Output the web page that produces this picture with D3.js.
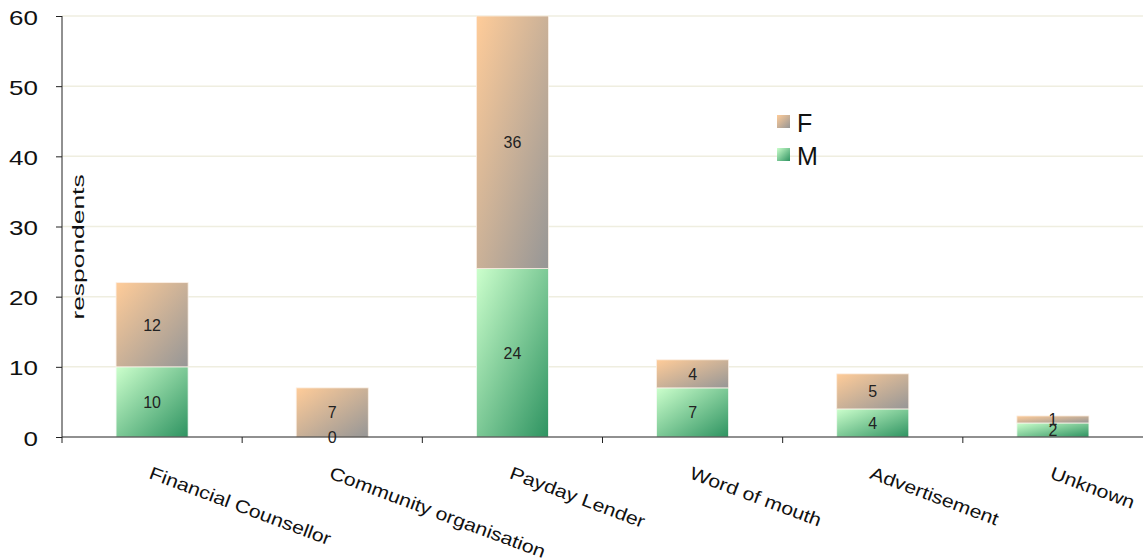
<!DOCTYPE html>
<html><head><meta charset="utf-8">
<script src="https://cdn.jsdelivr.net/npm/d3@7"></script>
<style>body{margin:0;background:#fff}svg{display:block}text{font-family:"Liberation Sans",Arial,sans-serif}</style>
</head><body><svg id="c" width="1145" height="560"></svg>
<script>
const categories = ["Financial Counsellor","Community organisation","Payday Lender","Word of mouth","Advertisement","Unknown"];
const maleValues = [10,0,24,7,4,2];
const femaleValues = [12,7,36,4,5,1];
const yTicks = [0,10,20,30,40,50,60];
const seriesNames = ["F","M"];

const svg = d3.select("#c");
const m = {left:62, right:1143, top:16, bottom:437};
const x = d3.scaleBand().domain(categories).range([m.left, m.right]).paddingInner(0).paddingOuter(0);
const y = d3.scaleLinear().domain([0,60]).range([m.bottom, m.top]);

const defs = svg.append("defs");
function grad(id, c1, c2){
  const g = defs.append("linearGradient").attr("id",id).attr("x1",0).attr("y1",0).attr("x2",1).attr("y2",1);
  g.append("stop").attr("offset","0%").attr("stop-color",c1);
  g.append("stop").attr("offset","100%").attr("stop-color",c2);
}
grad("gF","#ffcc99","#969696");
grad("gM","#ccffcc","#2e9361");

// gridlines
svg.append("g").selectAll("line").data(yTicks.filter(d=>d>0)).join("line")
  .attr("x1",m.left).attr("x2",m.right).attr("y1",d=>y(d)).attr("y2",d=>y(d))
  .attr("stroke","#efeee0").attr("stroke-width",1.5);

const bw = x.bandwidth()*0.4;
const stack = categories.map((c,i)=>({c, m:maleValues[i], f:femaleValues[i]}));
const g = svg.append("g");
g.selectAll("rect.m").data(stack).join("rect").attr("class","m")
  .attr("x",d=>x(d.c)+x.bandwidth()/2-bw/2).attr("width",bw)
  .attr("y",d=>y(d.m)).attr("height",d=>y(0)-y(d.m))
  .attr("fill","url(#gM)").attr("stroke","#f4fbf4").attr("stroke-width",0.8);
g.selectAll("rect.f").data(stack).join("rect").attr("class","f")
  .attr("x",d=>x(d.c)+x.bandwidth()/2-bw/2).attr("width",bw)
  .attr("y",d=>y(d.m+d.f)).attr("height",d=>y(d.m)-y(d.m+d.f))
  .attr("fill","url(#gF)").attr("stroke","#fbefe4").attr("stroke-width",0.8);

// value labels
g.selectAll("text.lm").data(stack).join("text")
  .attr("x",d=>x(d.c)+x.bandwidth()/2).attr("y",d=>y(d.m/2)+6)
  .attr("text-anchor","middle").attr("font-size",16).attr("fill","#222").text(d=>d.m);
g.selectAll("text.lf").data(stack).join("text")
  .attr("x",d=>x(d.c)+x.bandwidth()/2).attr("y",d=>y(d.m+d.f/2)+6)
  .attr("text-anchor","middle").attr("font-size",16).attr("fill","#222").text(d=>d.f);

// y axis
const ya = svg.append("g").attr("transform",`translate(${m.left},0)`)
  .call(d3.axisLeft(y).tickValues(yTicks).tickSize(6).tickPadding(0));
ya.select(".domain").attr("stroke","#222").attr("d",`M0,${m.top}V${m.bottom+6}`);
ya.selectAll(".tick line").attr("stroke","#222");
ya.selectAll(".tick text").attr("font-size",20).attr("fill","#111")
  .attr("font-family","Liberation Sans, Arial, sans-serif")
  .attr("x",0).attr("dy","0.4em").attr("transform","translate(-24,0) scale(1.3,1)");

// x axis
svg.append("line").attr("x1",m.left).attr("x2",m.right).attr("y1",y(0)).attr("y2",y(0)).attr("stroke","#222").attr("stroke-width",1.2);
const bounds = categories.map(c=>x(c)+x.bandwidth()).slice(0,-1);
svg.append("g").selectAll("line").data(bounds).join("line")
  .attr("x1",d=>d).attr("x2",d=>d).attr("y1",y(0)).attr("y2",y(0)+6).attr("stroke","#222");
svg.append("g").selectAll("text").data(categories).join("text")
  .attr("transform",d=>`translate(${x(d)+x.bandwidth()/2-4},${y(0)+41}) rotate(20.5) scale(1.18,1)`)
  .attr("font-size",18).attr("fill","#111").text(d=>d);

// y label
svg.append("text").attr("transform",`translate(84,247) rotate(-90) scale(1.65,1)`).attr("text-anchor","middle")
  .attr("font-size",16).attr("fill","#111").text("respondents");

// legend
const lg = svg.append("g");
const legendColors = {F:"url(#gF)", M:"url(#gM)"};
seriesNames.forEach((s,i)=>{
  lg.append("rect").attr("x",777).attr("y",115+i*33).attr("width",13).attr("height",13).attr("fill",legendColors[s]);
  lg.append("text").attr("x",797).attr("y",132+i*33).attr("font-size",25).attr("fill","#111").text(s);
});
</script></body></html>
